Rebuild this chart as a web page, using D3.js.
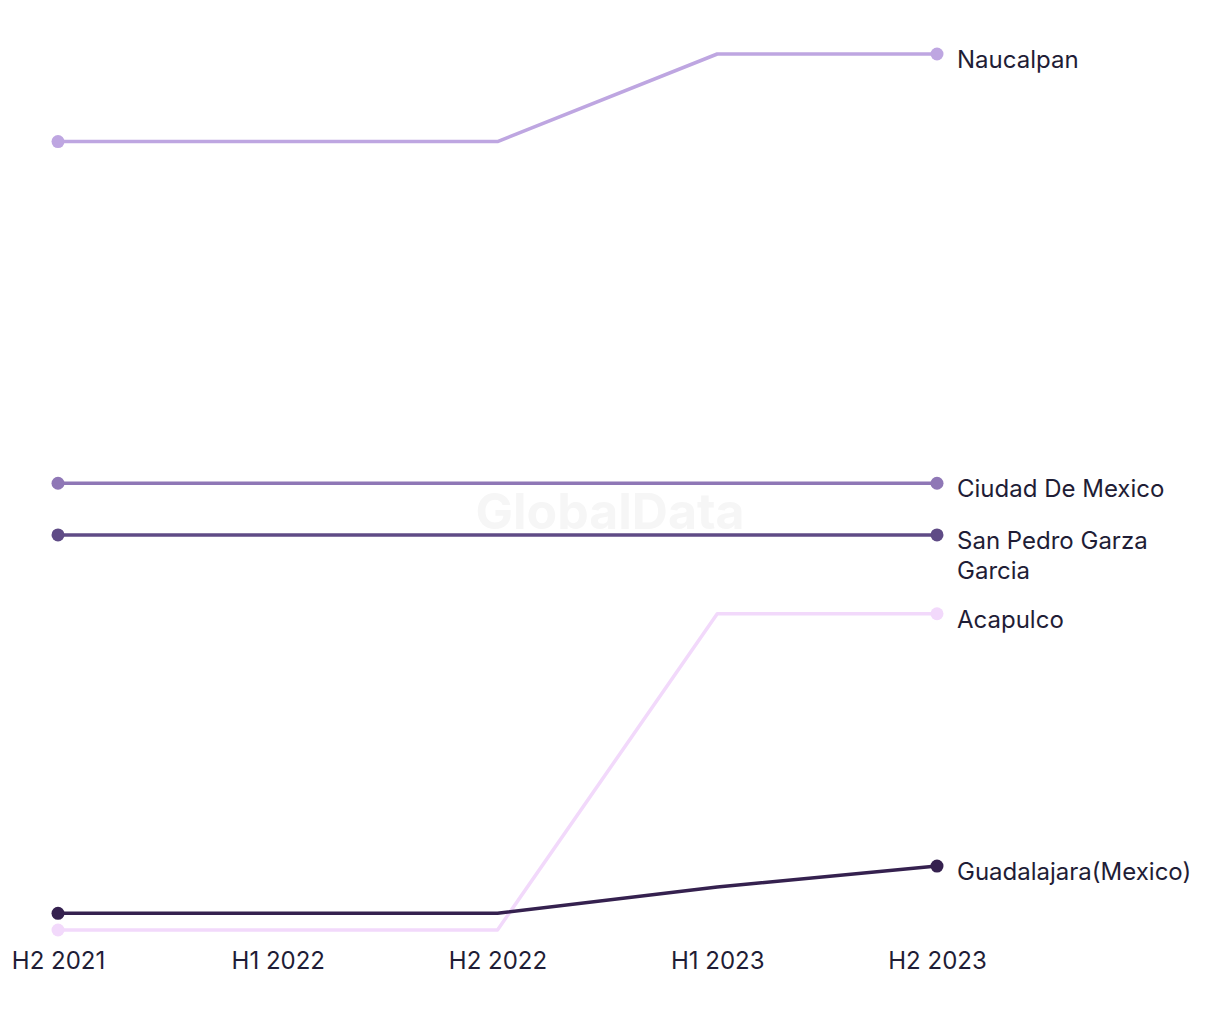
<!DOCTYPE html>
<html>
<head>
<meta charset="utf-8">
<script src="https://cdn.jsdelivr.net/npm/d3@7"></script>
<style>
  html, body { margin: 0; padding: 0; background: #ffffff; }
  svg { display: block; }
  text { font-family: Inter, "Noto Sans", sans-serif; }
</style>
</head>
<body>
<svg id="chart" width="1220" height="1020"></svg>
<script>
const periods = ["H2 2021", "H1 2022", "H2 2022", "H1 2023", "H2 2023"];
const seriesNames = ["Naucalpan", "Ciudad De Mexico", "San Pedro Garza Garcia", "Acapulco", "Guadalajara(Mexico)"];
const naucalpan   = [90, 90, 90, 100, 100];
const ciudad      = [51, 51, 51, 51, 51];
const sanPedro    = [45.1, 45.1, 45.1, 45.1, 45.1];
const acapulco    = [0, 0, 0, 36.1, 36.1];
const guadalajara = [1.9, 1.9, 1.9, 4.9, 7.3];
const seriesColors = ["#bea6e1", "#8f77b6", "#5f4b86", "#f2d9fb", "#35214f"];
const labelLines = [["Naucalpan"], ["Ciudad De Mexico"], ["San Pedro Garza", "Garcia"], ["Acapulco"], ["Guadalajara(Mexico)"]];

const allValues = [naucalpan, ciudad, sanPedro, acapulco, guadalajara];
const series = seriesNames.map((n, i) => ({ name: n, values: allValues[i], color: seriesColors[i], lines: labelLines[i] }));

const svg = d3.select("#chart");

const x = d3.scalePoint().domain(periods).range([58, 937]);
const y = d3.scaleLinear().domain([0, 100]).range([930, 54]);

// watermark
svg.append("text")
  .attr("x", 610).attr("y", 529)
  .attr("text-anchor", "middle")
  .attr("font-size", 50).attr("font-weight", 700)
  .attr("fill", "#f6f6f6")
  .text("GlobalData");

const line = d3.line().x((d, i) => x(periods[i])).y(d => y(d));

const g = svg.append("g");
series.forEach(s => {
  g.append("path")
    .attr("d", line(s.values))
    .attr("fill", "none")
    .attr("stroke", s.color)
    .attr("stroke-width", 3.5)
    .attr("stroke-linejoin", "round");
});
series.forEach(s => {
  const first = 0, last = s.values.length - 1;
  [first, last].forEach(i => {
    g.append("circle")
      .attr("cx", x(periods[i]))
      .attr("cy", y(s.values[i]))
      .attr("r", 6.5)
      .attr("fill", s.color);
  });
  const lastY = y(s.values[last]);
  const t = g.append("text")
    .attr("x", x(periods[last]) + 20)
    .attr("y", lastY + 14)
    .attr("font-size", 24)
    .attr("fill", "#1f1d36");
  s.lines.forEach((ln, k) => {
    t.append("tspan").attr("x", x(periods[last]) + 20).attr("dy", k === 0 ? 0 : 30).text(ln);
  });
});

// x axis
const xAxis = d3.axisBottom(x).tickSize(0).tickPadding(0);
const ax = svg.append("g").attr("transform", "translate(0,952)").call(xAxis);
ax.select(".domain").remove();
ax.selectAll("text")
  .attr("font-size", 24)
  .attr("fill", "#1f1d36")
  .attr("font-family", "Inter, 'Noto Sans', sans-serif");
</script>
</body>
</html>
